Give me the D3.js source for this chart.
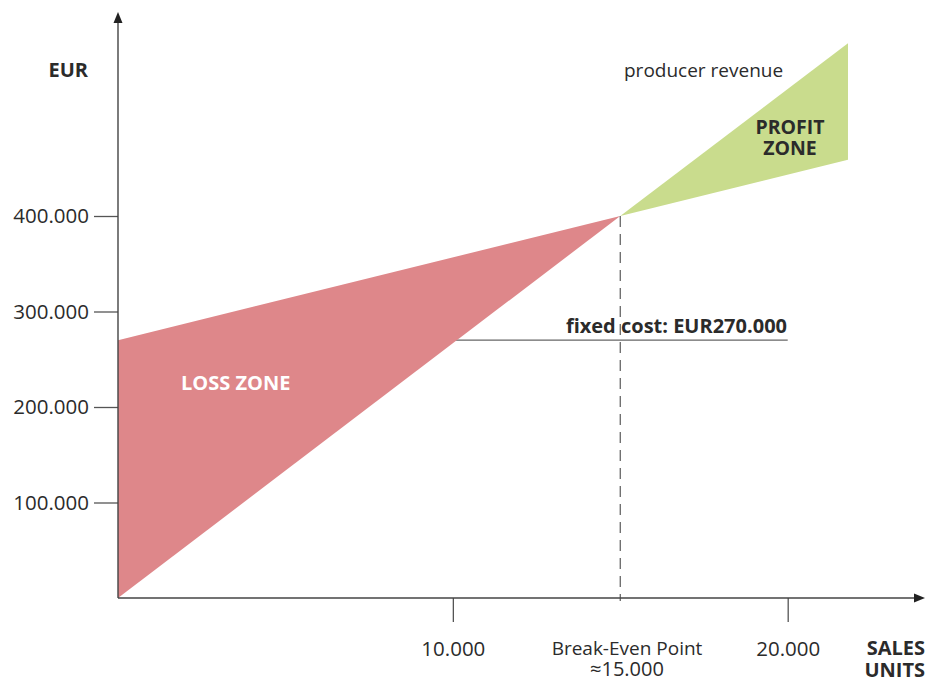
<!DOCTYPE html>
<html>
<head>
<meta charset="utf-8">
<script src="https://cdn.jsdelivr.net/npm/d3@7"></script>
<style>
  body { margin: 0; background: #fff; }
  svg { font-family: "Open Sans", "Noto Sans", sans-serif; }
</style>
</head>
<body>
<svg width="930" height="681"></svg>
<script>
// break-even data
var units      = [0, 15000, 21800];
var revenue    = [0, 400000, 581000];
var totalCost  = [270000, 400000, 459000];
var fixedCost  = 270000;
var breakEven  = 15000;
var yTicks     = [100000, 200000, 300000, 400000];
var yTickText  = ["100.000", "200.000", "300.000", "400.000"];
var xTicks     = [10000, 20000];
var xTickText  = ["10.000", "20.000"];

var svg = d3.select("svg");

var x = d3.scaleLinear().domain([0, 20000]).range([118, 787.7]);
var y = d3.scaleLinear().domain([0, 400000]).range([598, 216]);

var textCol = "#2b2b2b";

// fixed cost line (under the loss area)
svg.append("line")
    .attr("x1", x(10000)).attr("x2", x(20000))
    .attr("y1", y(fixedCost)).attr("y2", y(fixedCost))
    .attr("stroke", "#666").attr("stroke-width", 1.3);

// loss zone: between cost and revenue, left of break-even
var loss = [[units[0], totalCost[0]], [units[1], totalCost[1]], [units[0], revenue[0]]];
// profit zone: right of break-even
var profit = [[units[1], revenue[1]], [units[2], revenue[2]], [units[2], totalCost[2]]];

var poly = d3.line().x(function(d) { return x(d[0]); }).y(function(d) { return y(d[1]); });

svg.append("path")
    .attr("d", poly(loss) + "Z")
    .attr("fill", "#de878a");

svg.append("path")
    .attr("d", poly(profit) + "Z")
    .attr("fill", "#c9dc8d");

// break-even dashed line
svg.append("line")
    .attr("x1", x(breakEven)).attr("x2", x(breakEven))
    .attr("y1", y(400000)).attr("y2", y(0) + 3)
    .attr("stroke", "#666").attr("stroke-width", 1.3)
    .attr("stroke-dasharray", "11,7");

// y axis
var yAxis = svg.append("g")
    .attr("transform", "translate(" + x(0) + ",0)")
    .call(d3.axisLeft(y).tickValues(yTicks).tickSize(24).tickPadding(5)
        .tickFormat(function(d, i) { return yTickText[i]; }));
yAxis.select(".domain").remove();
yAxis.selectAll("line").attr("stroke", "#555").attr("stroke-width", 1.3);
yAxis.selectAll("text")
    .attr("fill", textCol)
    .style("font-size", "20.5px")
    .style("font-family", "'Open Sans', sans-serif");

// x axis
var xAxis = svg.append("g")
    .attr("transform", "translate(0," + y(0) + ")")
    .call(d3.axisBottom(x).tickValues(xTicks).tickSize(24).tickPadding(19)
        .tickFormat(function(d, i) { return xTickText[i]; }));
xAxis.select(".domain").remove();
xAxis.selectAll("line").attr("stroke", "#555").attr("stroke-width", 1.3);
xAxis.selectAll("text")
    .attr("fill", textCol)
    .style("font-size", "20.5px")
    .style("font-family", "'Open Sans', sans-serif");

// axis lines with arrows
svg.append("line")
    .attr("x1", x(0)).attr("x2", x(0))
    .attr("y1", y(0)).attr("y2", 20)
    .attr("stroke", "#444").attr("stroke-width", 1.4);
svg.append("path")
    .attr("d", "M" + x(0) + ",12 L" + (x(0) - 4.5) + ",23 L" + (x(0) + 4.5) + ",23 Z")
    .attr("fill", "#222");

svg.append("line")
    .attr("x1", x(0)).attr("x2", 917)
    .attr("y1", y(0)).attr("y2", y(0))
    .attr("stroke", "#444").attr("stroke-width", 1.4);
svg.append("path")
    .attr("d", "M925," + y(0) + " L914," + (y(0) - 4.5) + " L914," + (y(0) + 4.5) + " Z")
    .attr("fill", "#222");

// labels
function label(tx, ty, txt, anchor, bold, size, col) {
  return svg.append("text")
      .attr("x", tx).attr("y", ty)
      .attr("text-anchor", anchor)
      .attr("fill", col || textCol)
      .style("font-size", size + "px")
      .style("font-weight", bold ? "bold" : "normal")
      .text(txt);
}

label(88, 77, "EUR", "end", true, 20);
label(624, 77, "producer revenue", "start", false, 19);
label(790, 134, "PROFIT", "middle", true, 19.5);
label(790, 155, "ZONE", "middle", true, 19.5);
label(181, 390, "LOSS ZONE", "start", true, 20, "#ffffff");
label(787, 333, "fixed cost: EUR270.000", "end", true, 20);
label(627, 655, "Break-Even Point", "middle", false, 19);
label(627, 676, "\u224815.000", "middle", false, 20);
label(925, 655, "SALES", "end", true, 20);
label(925, 677, "UNITS", "end", true, 20);
</script>
</body>
</html>
